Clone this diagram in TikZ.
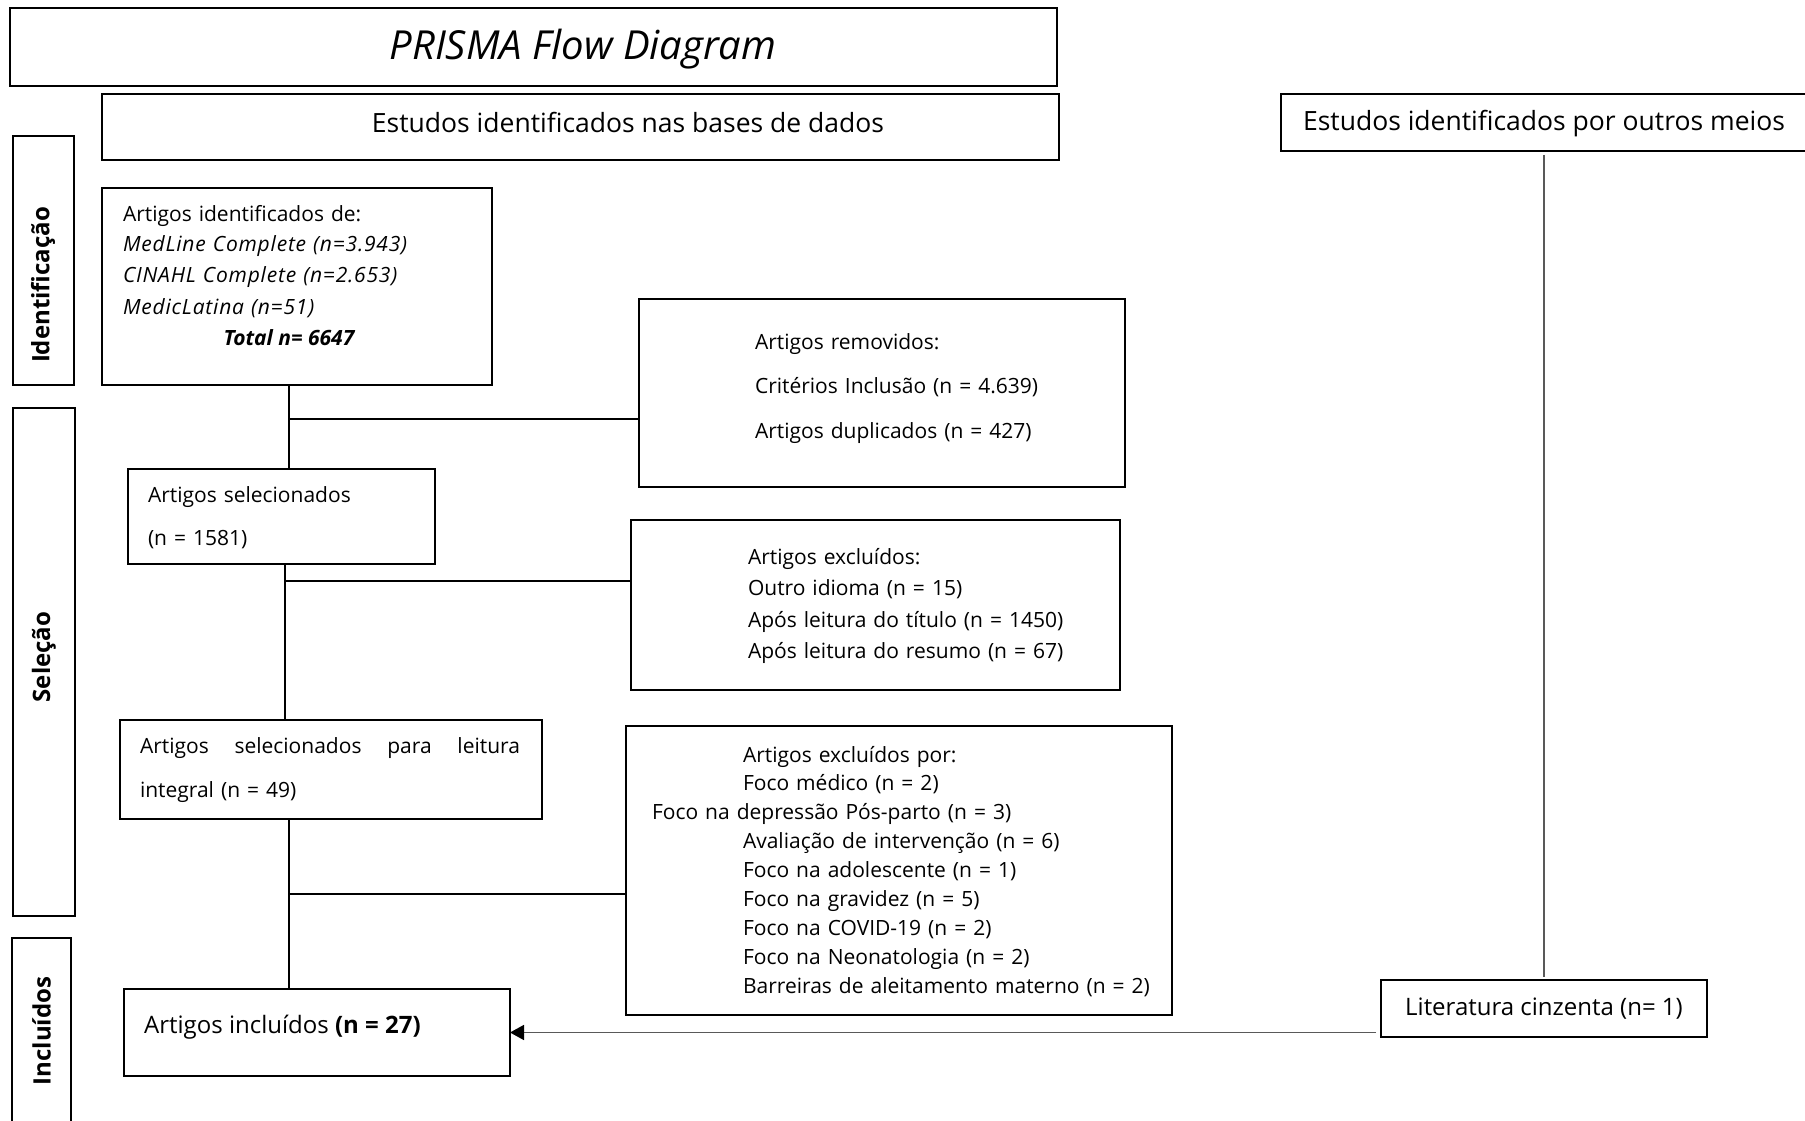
\documentclass[tikz,border=0pt]{standalone}
\usepackage{fontspec}
\setmainfont{Open Sans}
\usetikzlibrary{arrows.meta}
\newcommand\dbname[1]{{\itshape\addfontfeature{LetterSpace=3.8}#1}}
\begin{document}
\begin{tikzpicture}[x=1pt,y=-1pt,
  box/.style={draw, line width=2pt, inner sep=0pt, outer sep=0pt, anchor=north west},
  txt/.style={inner sep=0pt, outer sep=0pt, anchor=base west, align=left, text width=440pt},
  body/.style={font=\fontsize{21}{#1}\selectfont},
  side/.style={rotate=90, inner sep=0pt, font=\bfseries\fontsize{24}{28}\selectfont},
  link/.style={line width=2pt, draw=black},
  other/.style={line width=1.6pt, draw=black!65},
]
\useasboundingbox (0,0) rectangle (1805,1121);

% frames
\node[box, minimum width=1047pt, minimum height=78pt]  (title)   at (10,8)     {};
\node[box, minimum width=957pt,  minimum height=66pt]  (bases)   at (102,94)   {};
\node[box, minimum width=534pt,  minimum height=57pt]  (outros)  at (1281,94)  {};
\node[box, minimum width=61pt,   minimum height=249pt] (sideId)  at (13,136)   {};
\node[box, minimum width=62pt,   minimum height=508pt] (sideSel) at (13,408)   {};
\node[box, minimum width=59pt,   minimum height=197pt] (sideInc) at (12,938)   {};
\node[box, minimum width=390pt,  minimum height=197pt] (ident)   at (102,188)  {};
\node[box, minimum width=486pt,  minimum height=188pt] (removed) at (639,299)  {};
\node[box, minimum width=307pt,  minimum height=95pt]  (sel)     at (128,469)  {};
\node[box, minimum width=489pt,  minimum height=170pt] (excl)    at (631,520)  {};
\node[box, minimum width=422pt,  minimum height=99pt]  (full)    at (120,720)  {};
\node[box, minimum width=546pt,  minimum height=289pt] (exclpor) at (626,726)  {};
\node[box, minimum width=386pt,  minimum height=87pt]  (inc)     at (124,989)  {};
\node[box, minimum width=326pt,  minimum height=57pt]  (lit)     at (1381,980) {};

% headings
\node[anchor=base, inner sep=0pt, font=\itshape\fontsize{40}{44}\selectfont] (ttl) at (583,60) {PRISMA Flow Diagram};
\node[anchor=base, inner sep=0pt, font=\fontsize{26.5}{30}\selectfont] (basesT) at (628,133) {Estudos identificados nas bases de dados};
\node[anchor=base, inner sep=0pt, font=\fontsize{26.5}{30}\selectfont] (outrosT) at (1544,131) {Estudos identificados por outros meios};

% phase labels
\node[side] (lId)  at (43,285)   {Identificação};
\node[side] (lSel) at (44,657)   {Seleção};
\node[side] (lInc) at (41.5,1031) {Incluídos};

% box contents
\node[txt, body=31] (identT) at (123,221) {Artigos identificados de:\\
  \dbname{MedLine Complete (n=3.943)}\\
  \dbname{CINAHL Complete (n=2.653)}\\
  \dbname{MedicLatina (n=51)}};
\node[anchor=base, inner sep=0pt, font=\bfseries\itshape\fontsize{21}{24}\selectfont] (total) at (289,345) {Total n= 6647};

\node[txt, body=44.5] (removedT) at (755,349) {Artigos removidos:\\
  Critérios Inclusão (n = 4.639)\\
  Artigos duplicados (n = 427)};

\node[txt, body=43] (selT) at (148,502) {Artigos selecionados\\(n = 1581)};

\node[txt, body=31.5] (exclT) at (748,564) {Artigos excluídos:\\
  Outro idioma (n = 15)\\
  Após leitura do título (n = 1450)\\
  Após leitura do resumo (n = 67)};

\node[txt, body=44] (fullT) at (140,753) {\hbox to 380pt{Artigos\hfill selecionados\hfill para\hfill leitura}\\
  integral (n = 49)};

\node[txt, body=28.9] (exclporT) at (743,762) {Artigos excluídos por:\\
  Foco médico (n = 2)\\
  \hspace*{-91pt}Foco na depressão Pós-parto (n = 3)\\
  Avaliação de intervenção (n = 6)\\
  Foco na adolescente (n = 1)\\
  Foco na gravidez (n = 5)\\
  Foco na COVID-19 (n = 2)\\
  Foco na Neonatologia (n = 2)\\
  Barreiras de aleitamento materno (n = 2)};

\node[anchor=base west, inner sep=0pt, font=\fontsize{24}{28}\selectfont] (incT) at (144,1033) {Artigos incluídos \textbf{(n = 27)}};
\node[anchor=base, inner sep=0pt, font=\fontsize{24}{28}\selectfont] (litT) at (1544,1015) {Literatura cinzenta (n= 1)};

% connectors
\coordinate (j1) at (289,419);
\coordinate (j2) at (285,581);
\coordinate (j3) at (289,894);
\draw[link] (ident.south -| j1) -- (sel.north -| j1);
\draw[link] (j1) -- (removed.west |- j1);
\draw[link] (sel.south -| j2) -- (full.north -| j2);
\draw[link] (j2) -- (excl.west |- j2);
\draw[link] (full.south -| j3) -- (inc.north -| j3);
\draw[link] (j3) -- (exclpor.west |- j3);

\draw[other, shorten <=4pt, shorten >=3pt] (outros.south -| lit.north) -- (lit.north);
\draw[other, shorten <=5pt, -{Triangle[length=14pt,width=15pt,color=black]}] (lit.west |- inc.east) -- (inc.east);
\end{tikzpicture}
\end{document}
